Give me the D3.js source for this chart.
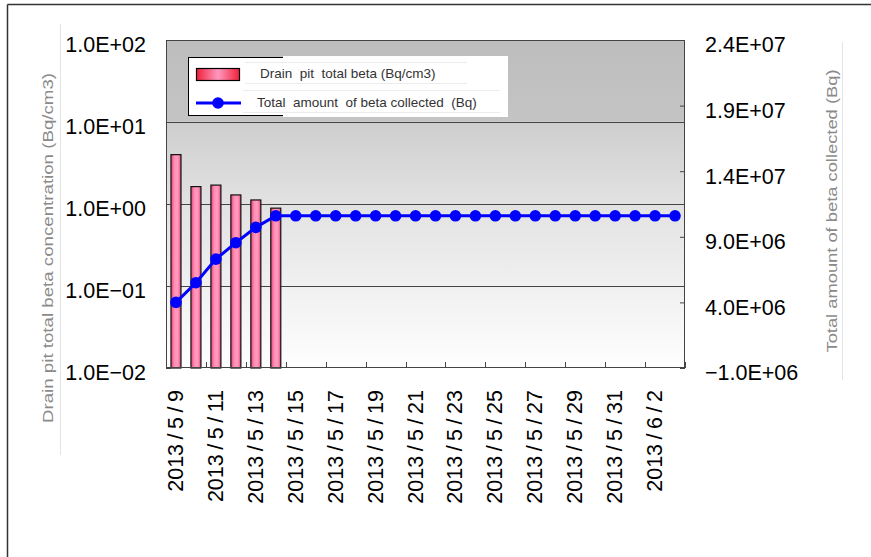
<!DOCTYPE html>
<html><head><meta charset="utf-8">
<script src="https://cdn.jsdelivr.net/npm/d3@7"></script>
<style>
html,body{margin:0;padding:0;background:#fff;}
svg text{font-family:"Liberation Sans",Arial,sans-serif;}
</style></head>
<body>
<svg id="c" width="871" height="557"></svg>
<script>
// ---- data ----
const categories = ["2013/5/9","2013/5/10","2013/5/11","2013/5/12","2013/5/13","2013/5/14","2013/5/15","2013/5/16","2013/5/17","2013/5/18","2013/5/19","2013/5/20","2013/5/21","2013/5/22","2013/5/23","2013/5/24","2013/5/25","2013/5/26","2013/5/27","2013/5/28","2013/5/29","2013/5/30","2013/5/31","2013/6/1","2013/6/2","2013/6/3"];
const betaConc = [4.0, 1.63, 1.70, 1.29, 1.12, 0.89, null,null,null,null,null,null,null,null,null,null,null,null,null,null,null,null,null,null,null,null];
const betaTotal = [4.0e6, 5.5e6, 7.3e6, 8.55e6, 9.72e6, 1.06e7, 1.06e7, 1.06e7, 1.06e7, 1.06e7, 1.06e7, 1.06e7, 1.06e7, 1.06e7, 1.06e7, 1.06e7, 1.06e7, 1.06e7, 1.06e7, 1.06e7, 1.06e7, 1.06e7, 1.06e7, 1.06e7, 1.06e7, 1.06e7];
const leftTicks = [0.01, 0.1, 1, 10, 100];
const leftTickLabels = ["1.0E\u221202","1.0E\u221201","1.0E+00","1.0E+01","1.0E+02"];
const rightTicks = [-1e6, 4e6, 9e6, 1.4e7, 1.9e7, 2.4e7];
const rightTickLabels = ["\u22121.0E+06","4.0E+06","9.0E+06","1.4E+07","1.9E+07","2.4E+07"];
const xLabels = categories.filter((d,i)=>i%2===0);
const seriesNames = ["Drain  pit  total beta (Bq/cm3)", "Total  amount  of beta collected  (Bq)"];
const leftTitle = "Drain pit total beta concentration (Bq/cm3)";
const rightTitle = "Total amount of beta collected (Bq)";

// ---- layout ----
const svg = d3.select("#c");
const L = 166, R = 685, T = 40, B = 368;
const x = d3.scaleBand().domain(categories).range([L, R]).padding(0);
const yL = d3.scaleLog().domain([0.01, 100]).range([B, T]);
const yR = d3.scaleLinear().domain([-1e6, 2.4e7]).range([B, T]);

const defs = svg.append("defs");
const bg = defs.append("linearGradient").attr("id","bg").attr("x1",0).attr("y1",0).attr("x2",0).attr("y2",1);
[[0,"#bdbdbd"],[0.245,"#c4c4c4"],[0.25,"#cecece"],[0.5,"#e2e2e2"],[0.75,"#f0f0f0"],[1,"#fefefe"]]
  .forEach(([o,c])=>bg.append("stop").attr("offset",o).attr("stop-color",c));
const barG = defs.append("linearGradient").attr("id","barg").attr("x1",0).attr("y1",0).attr("x2",1).attr("y2",0);
[[0,"#e8407a"],[0.35,"#ff8fb6"],[0.65,"#ff9cbe"],[1,"#e8508a"]]
  .forEach(([o,c])=>barG.append("stop").attr("offset",o).attr("stop-color",c));
const legG = defs.append("linearGradient").attr("id","legg").attr("x1",0).attr("y1",0).attr("x2",1).attr("y2",0);
[[0,"#f0203a"],[0.5,"#ff98c0"],[1,"#f0203a"]]
  .forEach(([o,c])=>legG.append("stop").attr("offset",o).attr("stop-color",c));

// outer frame (top & left only visible)
svg.append("line").attr("x1",7.5).attr("y1",4.5).attr("x2",871).attr("y2",4.5).attr("stroke","#333").attr("stroke-width",1.5);
svg.append("line").attr("x1",7.5).attr("y1",4.5).attr("x2",7.5).attr("y2",557).attr("stroke","#333").attr("stroke-width",1.5);
// faint title guide lines
svg.append("line").attr("x1",60.5).attr("y1",24).attr("x2",60.5).attr("y2",455).attr("stroke","#e4e4e4");
svg.append("line").attr("x1",842.5).attr("y1",42).attr("x2",842.5).attr("y2",380).attr("stroke","#e4e4e4");

// plot background
svg.append("rect").attr("x",L).attr("y",T).attr("width",R-L).attr("height",B-T).attr("fill","url(#bg)");
// gridlines
svg.append("g").selectAll("line").data(leftTicks.slice(1,-1)).join("line")
  .attr("x1",L).attr("x2",R).attr("y1",d=>Math.round(yL(d))+0.5).attr("y2",d=>Math.round(yL(d))+0.5)
  .attr("stroke","#444").attr("stroke-width",1);

// bars
const bw = 10;
svg.append("g").selectAll("rect").data(categories.map((c,i)=>({c,v:betaConc[i]})).filter(d=>d.v!=null)).join("rect")
  .attr("x",d=>x(d.c)+x.bandwidth()/2-bw/2).attr("width",bw)
  .attr("y",d=>yL(d.v)).attr("height",d=>B-yL(d.v))
  .attr("fill","url(#barg)").attr("stroke","#111").attr("stroke-width",1.2);

// line
const pts = categories.map((c,i)=>({c,v:betaTotal[i]}));
svg.append("path").datum(pts)
  .attr("d", d3.line().x(d=>x(d.c)+x.bandwidth()/2).y(d=>yR(d.v)))
  .attr("fill","none").attr("stroke","#0000ff").attr("stroke-width",3);
svg.append("g").selectAll("circle").data(pts).join("circle")
  .attr("cx",d=>x(d.c)+x.bandwidth()/2).attr("cy",d=>yR(d.v)).attr("r",5.8).attr("fill","#0000ff");

// plot border
svg.append("rect").attr("x",L+0.5).attr("y",T+0.5).attr("width",R-L-1).attr("height",B-T-1)
  .attr("fill","none").attr("stroke","#444").attr("stroke-width",1);

// left axis
const fs = 21.5;
const ax1 = svg.append("g").attr("transform",`translate(${L},0)`)
  .call(d3.axisLeft(yL).tickValues(leftTicks).tickFormat((d,i)=>leftTickLabels[i]).tickSizeInner(-5).tickSizeOuter(0).tickPadding(20));
ax1.select(".domain").remove();
ax1.selectAll("line").attr("stroke","#444");
ax1.selectAll("text").attr("font-size",fs).attr("fill","#000").attr("dy","0.55em").attr("font-family","Liberation Sans, Arial");

// right axis
const ax2 = svg.append("g").attr("transform",`translate(${R},0)`)
  .call(d3.axisRight(yR).tickValues(rightTicks).tickFormat((d,i)=>rightTickLabels[i]).tickSizeInner(-5).tickSizeOuter(0).tickPadding(20));
ax2.select(".domain").remove();
ax2.selectAll("line").attr("stroke","#444");
ax2.selectAll("text").attr("font-size",fs).attr("fill","#000").attr("dy","0.55em").attr("font-family","Liberation Sans, Arial");

// x ticks at every second category boundary
const bounds = categories.filter((d,i)=>i%2===0).map(c=>x(c)).concat([R]);
svg.append("g").selectAll("line").data(bounds).join("line")
  .attr("x1",d=>Math.round(d)+0.5).attr("x2",d=>Math.round(d)+0.5).attr("y1",B).attr("y2",B-6)
  .attr("stroke","#444");

// x labels (wide slashes like the original font)
const ax3 = svg.append("g").attr("transform",`translate(0,${B})`)
  .call(d3.axisBottom(x).tickValues(xLabels).tickSize(0).tickPadding(0));
ax3.select(".domain").remove();
ax3.selectAll("text").each(function(d){
  const t = d3.select(this);
  t.text(null)
   .attr("font-size",fs).attr("fill","#000").attr("font-family","Liberation Sans, Arial")
   .attr("text-anchor","end").attr("dy",null).attr("y",null)
   .attr("transform","translate(7,22) rotate(-90)");
  const parts = d.split("/");
  parts.forEach((p,i)=>{
    if(i>0) t.append("tspan").attr("dx",4.5).text("/");
    t.append("tspan").attr("dx",i>0?4.5:0).text(p);
  });
});

// axis titles
svg.append("text").attr("transform","translate(53,248) rotate(-90)").attr("text-anchor","middle")
  .attr("font-size",15.5).attr("fill","#8a8a8a").text(leftTitle).attr("textLength",350).attr("lengthAdjust","spacingAndGlyphs");
svg.append("text").attr("transform","translate(837,211) rotate(-90)").attr("text-anchor","middle")
  .attr("font-size",15.5).attr("fill","#8a8a8a").text(rightTitle).attr("textLength",283).attr("lengthAdjust","spacingAndGlyphs");

// legend
const lg = svg.append("g");
lg.append("rect").attr("x",188.5).attr("y",57.5).attr("width",300).attr("height",58).attr("fill","#fff").attr("stroke","#000");
lg.append("rect").attr("x",283).attr("y",56).attr("width",225).attr("height",61).attr("fill","#fff");
[[245,467,62],[245,467,83],[243,500,90],[243,500,112]].forEach(([a,b,yy])=>
  lg.append("line").attr("x1",a).attr("x2",b).attr("y1",yy+0.5).attr("y2",yy+0.5).attr("stroke","#ececec"));
lg.append("rect").attr("x",196.5).attr("y",68.5).attr("width",43).attr("height",12).attr("fill","url(#legg)").attr("stroke","#000").attr("stroke-width",1.2);
lg.append("line").attr("x1",196).attr("x2",241).attr("y1",103).attr("y2",103).attr("stroke","#0000ff").attr("stroke-width",3);
lg.append("circle").attr("cx",218).attr("cy",103).attr("r",5.8).attr("fill","#0000ff");
lg.append("text").attr("x",260).attr("y",78).attr("font-size",13.5).attr("fill","#333").style("white-space","pre").text(seriesNames[0]);
lg.append("text").attr("x",257).attr("y",107).attr("font-size",13.5).attr("fill","#333").style("white-space","pre").text(seriesNames[1]);
</script>
</body></html>
